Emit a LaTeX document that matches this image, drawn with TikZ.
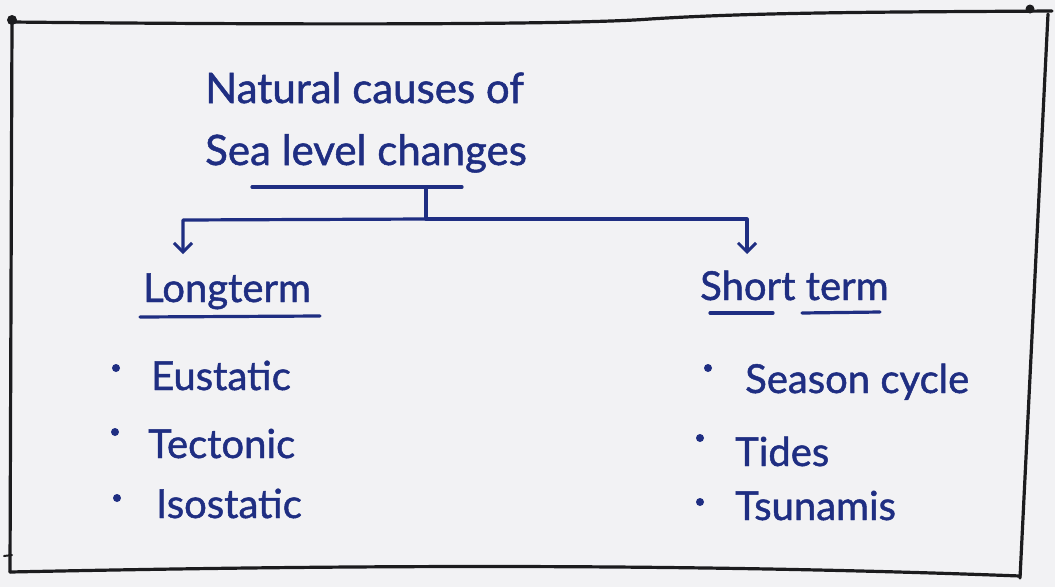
\documentclass[tikz,border=0pt]{standalone}
\usepackage{fontspec}
\setmainfont{Lato}
\newfontfamily\handfont{Lato}[FakeBold=1.2]
\usetikzlibrary{arrows.meta}
\definecolor{ink}{HTML}{1F2E82}
\definecolor{paper}{HTML}{F2F2F4}
\definecolor{pencil}{HTML}{1C1C1E}
\begin{document}
\begin{tikzpicture}[x=1pt,y=-1pt,
  hand/.style={font=\handfont\fontsize{40}{48}\selectfont, text=ink, inner sep=0pt, anchor=base west},
  headline/.style={hand, font=\handfont\fontsize{42}{50}\selectfont},
  inkline/.style={draw=ink, line width=3.2pt, line cap=round, line join=round},
  arrowline/.style={inkline, -{Straight Barb[length=9pt,width=18pt,line width=3pt]}},
  frame/.style={draw=pencil, line width=3.2pt, line cap=round, line join=round},
  bullet/.style={circle, fill=ink, inner sep=0pt, minimum size=8pt}]
% paper
\fill[paper] (0,0) rectangle (1055,587);
\useasboundingbox (0,0) rectangle (1055,587);

% hand-drawn frame
\draw[frame] (12,22) .. controls (200,24) and (560,26) .. (650,19)
  .. controls (760,12) and (900,12) .. (1052,11);
\draw[frame] (12,21) -- (10,572);
\draw[frame] (10,572) .. controls (300,566) and (650,562) .. (1020,576);
\draw[frame] (1048,14) -- (1020,578);
\fill[pencil] (12,20) circle (5pt);
\fill[pencil] (1030,9) circle (4.5pt);
\draw[frame, line width=2pt] (4,556) -- (12,555);

% heading
\node[headline] (title1) at (205,103) {Natural causes of};
\node[headline] (title2) at (205,165) {Sea level changes};
\coordinate (ulA) at (252,187);
\coordinate (ulB) at (462,187);
\draw[inkline] (ulA) -- (ulB);

% branching connector
\coordinate (stem) at (426,187);
\coordinate (junction) at (426,219);
\coordinate (lcorner) at (183,220);
\coordinate (rcorner) at (747,219);
\coordinate (ltip) at (183,254);
\coordinate (rtip) at (747,254);
\draw[inkline] (stem) -- (junction);
\draw[arrowline] (junction) -- (lcorner) -- (ltip);
\draw[arrowline] (junction) -- (rcorner) -- (rtip);

% long term branch
\node[hand] (long) at (143,302) {Longterm};
\draw[inkline] (140,317) -- (320,316);
\node[bullet] (lb1) at (116,368) {};
\node[bullet] (lb2) at (115,432) {};
\node[bullet] (lb3) at (117,498) {};
\node[hand] (eustatic) at (151,390) {Eustatic};
\node[hand] (tectonic) at (148,458) {Tectonic};
\node[hand] (isostatic) at (156,518) {Isostatic};

% short term branch
\node[hand] (short) at (700,300) {Short term};
\draw[inkline] (710,313) -- (773,313);
\draw[inkline] (802,313) -- (880,312);
\node[bullet] (rb1) at (708,368) {};
\node[bullet] (rb2) at (700,438) {};
\node[bullet] (rb3) at (700,502) {};
\node[hand] (season) at (745,393) {Season cycle};
\node[hand] (tides) at (735,466) {Tides};
\node[hand] (tsunamis) at (735,520) {Tsunamis};
\end{tikzpicture}
\end{document}
